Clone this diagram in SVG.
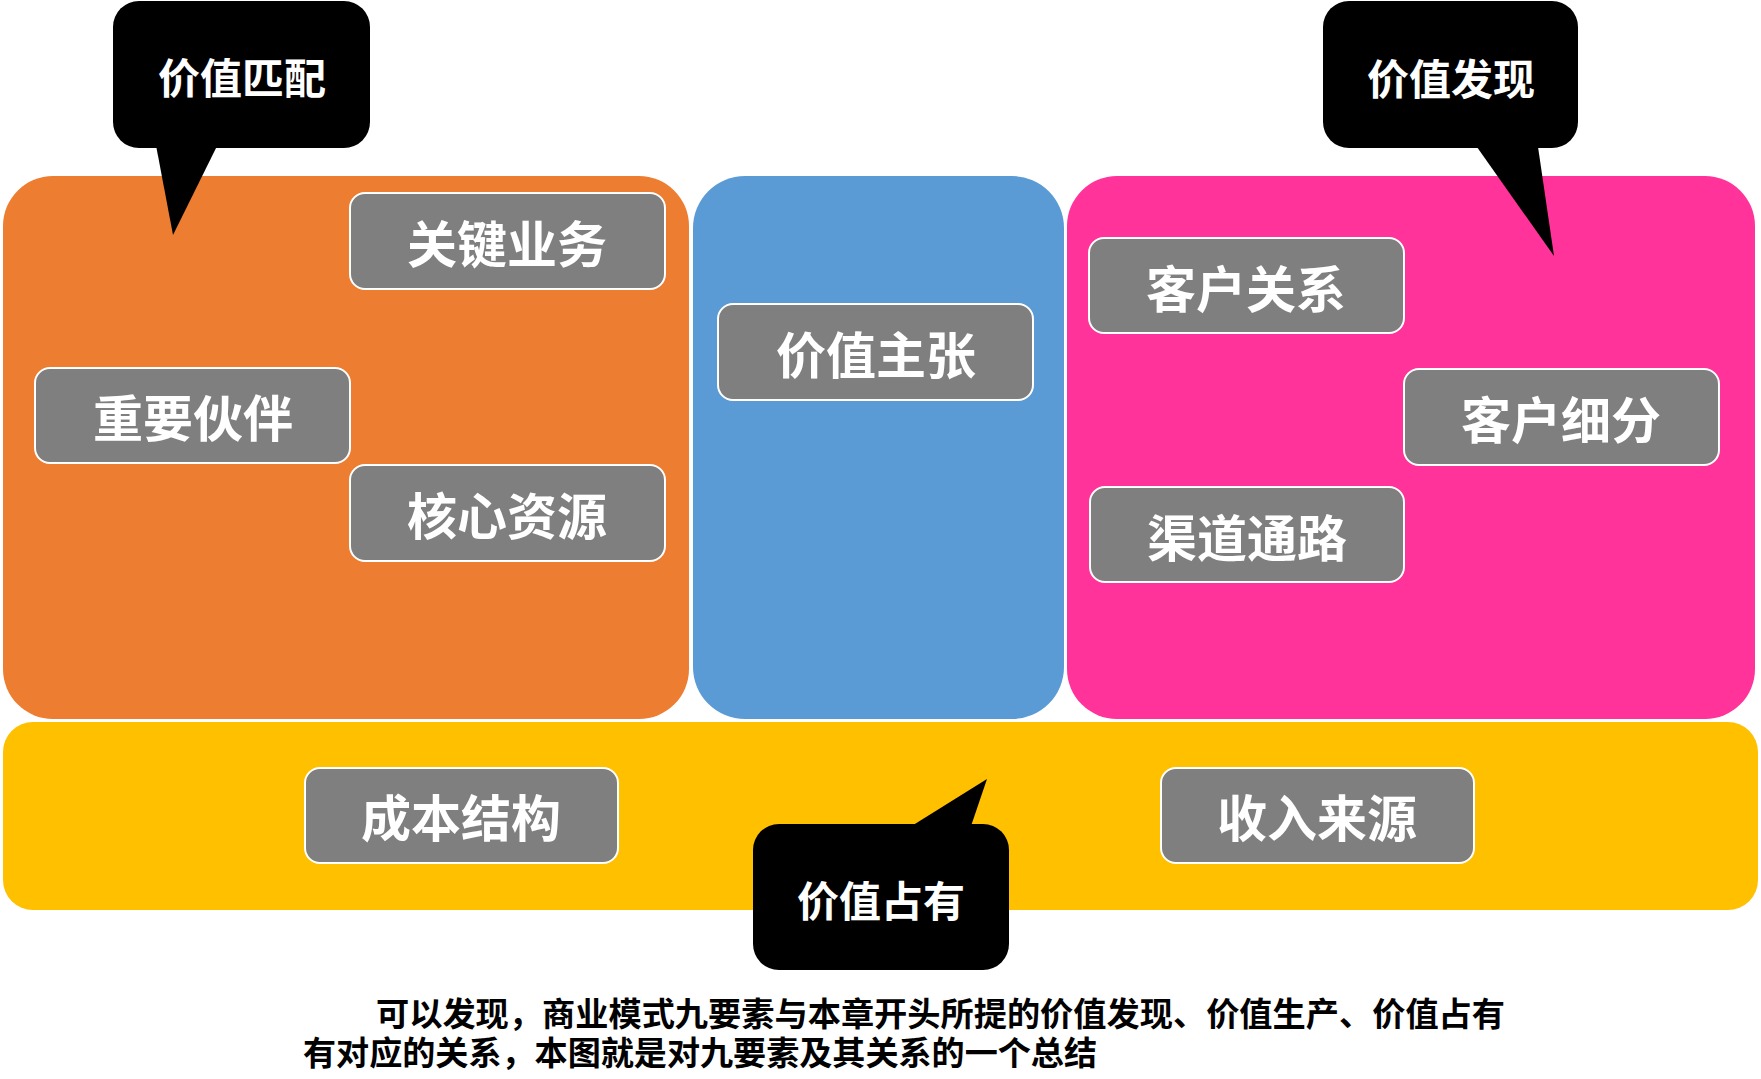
<svg xmlns="http://www.w3.org/2000/svg" width="1761" height="1079" viewBox="0 0 1761 1079">
<style>
.lbl{font-family:"Noto Sans CJK SC","Liberation Sans",sans-serif;font-weight:700;fill:#fff;text-anchor:middle;dominant-baseline:central}
.box{fill:#7f7f7f;stroke:#fff;stroke-width:2}
.l50{font-size:50px}
.l42{font-size:42px}
.call{fill:#000}
.note{font-family:"Noto Sans CJK SC","Liberation Sans",sans-serif;font-weight:700;font-size:33px;fill:#000;dominant-baseline:central}
</style>
<rect width="1761" height="1079" fill="#fff"/>
<g id="areas">
<rect id="area-match" x="3" y="176" width="686" height="543" rx="50" fill="#ED7D31"/>
<rect id="area-proposition" x="693" y="176" width="371" height="543" rx="52" fill="#5B9BD5"/>
<rect id="area-discover" x="1067" y="176" width="688" height="543" rx="50" fill="#FF3399"/>
<rect id="area-own" x="3" y="722" width="1755" height="188" rx="30" fill="#FFC000"/>
</g>
<g id="n-key-activities"><rect class="box" x="350" y="193" width="315" height="96" rx="15"/><text class="lbl l50" x="507" y="241">关键业务</text></g>
<g id="n-key-partners"><rect class="box" x="35" y="368" width="315" height="95" rx="15"/><text class="lbl l50" x="193" y="415">重要伙伴</text></g>
<g id="n-key-resources"><rect class="box" x="350" y="465" width="315" height="96" rx="15"/><text class="lbl l50" x="507" y="513">核心资源</text></g>
<g id="n-value-prop"><rect class="box" x="718" y="304" width="315" height="96" rx="15"/><text class="lbl l50" x="876" y="352">价值主张</text></g>
<g id="n-cust-rel"><rect class="box" x="1089" y="238" width="315" height="95" rx="15"/><text class="lbl l50" x="1246" y="286">客户关系</text></g>
<g id="n-cust-seg"><rect class="box" x="1404" y="369" width="315" height="96" rx="15"/><text class="lbl l50" x="1561" y="417">客户细分</text></g>
<g id="n-channels"><rect class="box" x="1090" y="487" width="314" height="95" rx="15"/><text class="lbl l50" x="1247" y="535">渠道通路</text></g>
<g id="n-cost"><rect class="box" x="305" y="768" width="313" height="95" rx="15"/><text class="lbl l50" x="461" y="815">成本结构</text></g>
<g id="n-revenue"><rect class="box" x="1161" y="768" width="313" height="95" rx="15"/><text class="lbl l50" x="1317" y="815">收入来源</text></g>
<g id="callout-match"><rect class="call" x="113" y="1" width="257" height="147" rx="26"/><polygon class="call" points="155,140 220,140 173,235"/><text class="lbl l42" x="242" y="75">价值匹配</text></g>
<g id="callout-discover"><rect class="call" x="1323" y="1" width="255" height="147" rx="26"/><polygon class="call" points="1472,140 1537,140 1554,256"/><text class="lbl l42" x="1451" y="76">价值发现</text></g>
<g id="callout-own"><rect class="call" x="753" y="824" width="256" height="146" rx="26"/><polygon class="call" points="902,832 969,832 987,779"/><text class="lbl l42" x="881" y="898">价值占有</text></g>
<g id="connectors"></g>
<g id="note">
<text class="note" x="376" y="1012" textLength="1129" lengthAdjust="spacingAndGlyphs">可以发现，商业模式九要素与本章开头所提的价值发现、价值生产、价值占有</text>
<text class="note" x="303" y="1051" textLength="794" lengthAdjust="spacingAndGlyphs">有对应的关系，本图就是对九要素及其关系的一个总结</text>
</g>
</svg>
